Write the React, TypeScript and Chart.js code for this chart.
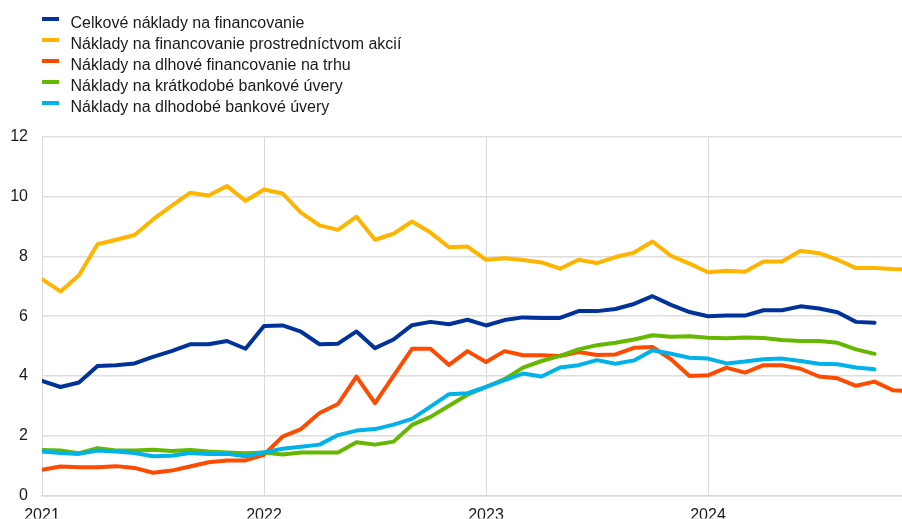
import React, { useEffect, useRef } from "react";
import { Chart, registerables } from "chart.js";

Chart.register(...registerables);

const yearTicks = [0, 12, 24, 36];
const yearLabels = ["2021", "2022", "2023", "2024"];

const seriesNames = [
  "Celkové náklady na financovanie",
  "Náklady na financovanie prostredníctvom akcií",
  "Náklady na dlhové financovanie na trhu",
  "Náklady na krátkodobé bankové úvery",
  "Náklady na dlhodobé bankové úvery",
];
const seriesColors = ["#003299", "#ffb400", "#ff4b00", "#65b800", "#00b1ea"];

const totalCost = [
  3.83, 3.63, 3.78, 4.33, 4.36, 4.42, 4.64, 4.83, 5.06, 5.06, 5.17, 4.91,
  5.67, 5.69, 5.48, 5.06, 5.08, 5.49, 4.93, 5.22, 5.7, 5.81, 5.73, 5.88,
  5.69, 5.87, 5.96, 5.94, 5.94, 6.17, 6.17, 6.24, 6.41, 6.67, 6.38, 6.14,
  6.0, 6.02, 6.02, 6.2, 6.2, 6.33, 6.26, 6.13, 5.81, 5.78,
];
const equityCost = [
  7.24, 6.83, 7.37, 8.41, 8.56, 8.72, 9.24, 9.69, 10.13, 10.04, 10.36, 9.86,
  10.24, 10.11, 9.47, 9.04, 8.89, 9.33, 8.56, 8.76, 9.17, 8.8, 8.31, 8.33,
  7.89, 7.94, 7.88, 7.8, 7.59, 7.89, 7.78, 7.98, 8.13, 8.5, 8.02, 7.76,
  7.47, 7.52, 7.49, 7.83, 7.83, 8.19, 8.11, 7.89, 7.61, 7.61, 7.58, 7.57,
];
const marketDebtCost = [
  0.86, 0.97, 0.94, 0.94, 0.98, 0.92, 0.76, 0.83, 0.97, 1.11, 1.17, 1.17,
  1.36, 1.97, 2.22, 2.76, 3.06, 3.98, 3.09, 4.0, 4.91, 4.91, 4.37, 4.83,
  4.47, 4.83, 4.69, 4.69, 4.67, 4.8, 4.7, 4.72, 4.94, 4.97, 4.56, 4.0,
  4.02, 4.28, 4.11, 4.36, 4.36, 4.24, 3.98, 3.92, 3.67, 3.81, 3.52, 3.48,
];
const shortTermLoanCost = [
  1.52, 1.5, 1.41, 1.58, 1.5, 1.5, 1.53, 1.49, 1.52, 1.47, 1.44, 1.41,
  1.44, 1.37, 1.44, 1.44, 1.44, 1.78, 1.7, 1.8, 2.36, 2.63, 3.0, 3.37,
  3.63, 3.89, 4.28, 4.5, 4.67, 4.89, 5.03, 5.11, 5.22, 5.36, 5.31, 5.33,
  5.28, 5.26, 5.29, 5.27, 5.2, 5.17, 5.17, 5.11, 4.89, 4.74,
];
const longTermLoanCost = [
  1.47, 1.42, 1.39, 1.5, 1.47, 1.42, 1.31, 1.33, 1.42, 1.39, 1.39, 1.31,
  1.44, 1.56, 1.63, 1.7, 2.02, 2.17, 2.22, 2.37, 2.56, 2.97, 3.39, 3.42,
  3.63, 3.86, 4.08, 3.98, 4.28, 4.36, 4.53, 4.41, 4.52, 4.86, 4.74, 4.61,
  4.58, 4.42, 4.48, 4.56, 4.58, 4.5, 4.41, 4.39, 4.28, 4.22,
];

const allSeries = [totalCost, equityCost, marketDebtCost, shortTermLoanCost, longTermLoanCost];

const FONT = "'Liberation Sans', Arial, sans-serif";

export default function App() {
  const ref = useRef<HTMLCanvasElement | null>(null);

  useEffect(() => {
    if (!ref.current) return;
    const datasets = allSeries.map((vals, si) => ({
      label: seriesNames[si],
      data: vals.map((v, i) => ({ x: i, y: v })),
      borderColor: seriesColors[si],
      backgroundColor: seriesColors[si],
      borderWidth: 4,
      pointRadius: 0,
      tension: 0,
      borderCapStyle: "round" as const,
      borderJoinStyle: "round" as const,
      order: 5 - si,
    }));
    const chart = new Chart(ref.current, {
      type: "line",
      data: { datasets },
      options: {
        animation: false,
        responsive: false,
        maintainAspectRatio: false,
        layout: { padding: { top: 137, left: 0, right: 0, bottom: 0 } },
        plugins: { legend: { display: false }, tooltip: { enabled: false } },
        scales: {
          x: {
            type: "linear",
            min: 0,
            max: (902 - 42) / 18.5,
            afterBuildTicks: (scale: any) => {
              scale.ticks = yearTicks.map((v) => ({ value: v }));
            },
            afterFit: (scale: any) => {
              scale.height = 23;
            },
            ticks: {
              autoSkip: false,
              maxRotation: 0,
              padding: 11,
              color: "#1a1a1a",
              font: { family: FONT, size: 16 },
              callback: (v: any) => yearLabels[yearTicks.indexOf(Number(v))] ?? "",
            },
            grid: { color: "#d9d9d9", lineWidth: 1, drawTicks: false },
            border: { display: true, color: "#d9d9d9", width: 1.5 },
          },
          y: {
            min: 0,
            max: 12,
            afterFit: (scale: any) => {
              scale.width = 42;
            },
            ticks: {
              stepSize: 2,
              padding: 14,
              color: "#1a1a1a",
              font: { family: FONT, size: 16 },
            },
            grid: { color: "#dedede", lineWidth: 1.5, drawTicks: false },
            border: { display: false },
          },
        },
      },
    });
    return () => chart.destroy();
  }, []);

  return (
    <div style={{ position: "absolute", left: 0, top: 0, width: 902, height: 519, overflow: "hidden", background: "#fff" }}>
      <canvas ref={ref} width={902} height={519} style={{ position: "absolute", left: 0, top: 0 }} />
      <div style={{ position: "absolute", left: 42, top: 12.25, fontFamily: FONT, fontSize: 16, lineHeight: "21px", color: "#1a1a1a" }}>
        {seriesNames.map((name, i) => (
          <div key={name} style={{ position: "relative", height: 21, whiteSpace: "nowrap" }}>
            <span style={{ position: "absolute", left: 0, top: 4.5, width: 17, height: 4.5, background: seriesColors[i] }} />
            <span style={{ position: "absolute", left: 28.5, top: 0 }}>{name}</span>
          </div>
        ))}
      </div>
    </div>
  );
}
